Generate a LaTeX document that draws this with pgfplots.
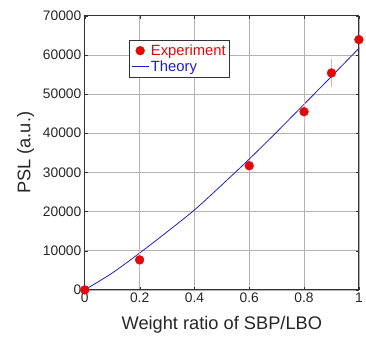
\documentclass[border=0pt]{standalone}
\usepackage{pgfplots}
\pgfplotsset{compat=1.18}
\usepackage{fontspec}
\setmainfont{Liberation Sans}
\definecolor{expred}{RGB}{225,10,10}
\definecolor{theoblue}{RGB}{30,30,200}
\definecolor{errred}{RGB}{245,170,170}
\begin{document}
\begin{tikzpicture}
\begin{axis}[
  scale only axis,
  width=278pt, height=278pt,
  xmin=0, xmax=1, ymin=0, ymax=70000,
  xtick={0,0.2,0.4,0.6,0.8,1},
  xticklabels={0,0.2,0.4,0.6,0.8,1},
  ytick={0,10000,20000,30000,40000,50000,60000,70000},
  yticklabels={0,10000,20000,30000,40000,50000,60000,70000},
  scaled y ticks=false,
  grid=major,
  major grid style={gray!60, line width=0.6pt},
  axis line style={black!80, line width=0.8pt},
  tick style={black!80},
  tick align=inside,
  major tick length=3pt,
  ticklabel style={font=\fontsize{14}{16}\selectfont, text=black!85},
  xlabel={Weight ratio of SBP/LBO},
  ylabel={PSL (a.u.)},
  label style={font=\fontsize{18.5}{20}\selectfont, text=black!85},
  xlabel style={yshift=-6pt},
  ylabel style={yshift=2pt},
  legend style={at={(0.162,0.91)}, anchor=north west, draw=black!80,
    font=\fontsize{15}{17}\selectfont, inner xsep=2pt, inner ysep=2pt},
  legend cell align=left,
  reverse legend,
  clip=false,
]
\addplot[theoblue, line width=0.8pt, smooth] coordinates {
 (0,0) (0.1,4300) (0.2,9400) (0.3,14800) (0.4,20400) (0.5,26800)
 (0.6,33400) (0.7,40300) (0.8,47400) (0.9,54500) (1.0,61700)};
\addlegendentry{\textcolor{theoblue}{Theory}}
\addplot[only marks, mark=*, mark size=4.5pt, color=expred,
  error bars/.cd, y dir=both, y explicit,
  error bar style={color=errred, line width=0.6pt}, error mark=none]
  coordinates {
 (0,0) +- (0,0)
 (0.2,7650) +- (0,2800)
 (0.6,31700) +- (0,1500)
 (0.8,45500) +- (0,3500)
 (0.9,55400) +- (0,3500)
 (1.0,63900) +- (0,2000)};
\addlegendentry{\textcolor{expred}{Experiment}}
\end{axis}
\path (-86pt,-51pt) rectangle (280pt,294pt);
\end{tikzpicture}
\end{document}
